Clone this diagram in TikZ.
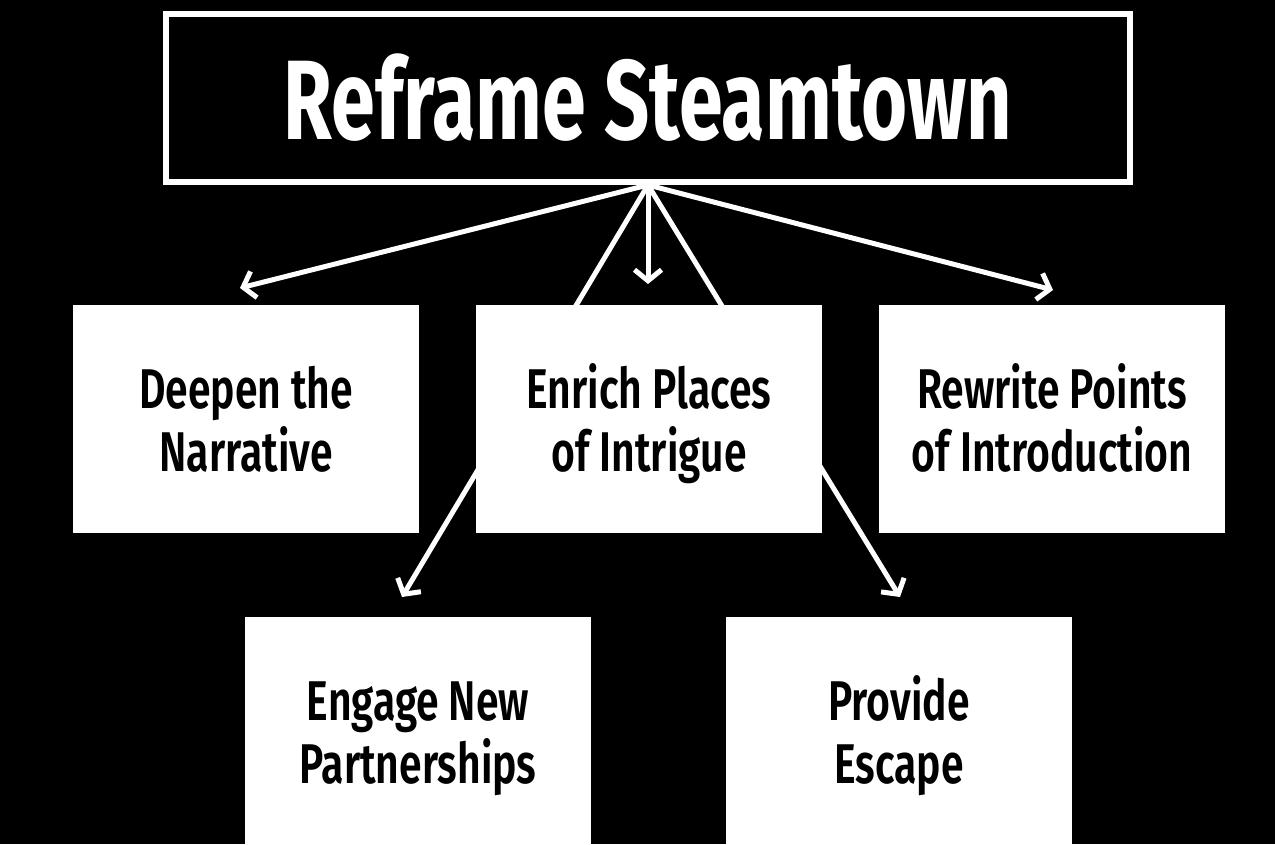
\documentclass[tikz,border=0pt]{standalone}
\usepackage{fontspec}
\setmainfont{Fira Sans}[FakeStretch=0.7]
\newfontfamily\boxfont{Fira Sans SemiBold}[FakeStretch=0.73]
\usetikzlibrary{arrows.meta}
\newcommand\mytopstrut{\rule{0pt}{56pt}}
\newcommand\mybotstrut{\rule[-15pt]{0pt}{15pt}}
\begin{document}
\begin{tikzpicture}[x=1pt,y=-1pt,
  wbox/.style={rectangle, fill=white, draw=none, inner sep=0pt, minimum width=346pt, minimum height=228pt, align=center, text=black, font=\boxfont\fontsize{56}{63}\selectfont},
  conn/.style={white, line width=5pt, -{Straight Barb[length=11pt,width=27pt]}},
  titlebox/.style={rectangle, draw=white, line width=6pt, fill=black, inner sep=0pt, minimum width=964pt, minimum height=168pt, text=white, font=\fontsize{113}{120}\selectfont\bfseries}]
\fill[black] (0,0) rectangle (1275,844);
\useasboundingbox (0,0) rectangle (1275,844);
\node[titlebox] (title) at (648,98) {Reframe Steamtown};
\coordinate (tl) at (240,288);
\coordinate (tm) at (648,284);
\coordinate (tr) at (1053,290);
\coordinate (bl) at (402,597);
\coordinate (br) at (900,597);
\draw[conn] (title.south) -- (tl);
\draw[conn] (title.south -| tm) -- (tm);
\draw[conn] (title.south) -- (tr);
\draw[conn] (title.south) -- (bl);
\draw[conn] (title.south) -- (br);
\node[wbox] (deepen) at (246,419) {\mytopstrut Deepen the\\Narrative\mybotstrut};
\node[wbox] (enrich) at (649,419) {\mytopstrut Enrich Places\\of Intrigue\mybotstrut};
\node[wbox] (rewrite) at (1052,419) {\mytopstrut Rewrite Points\\of Introduction\mybotstrut};
\node[wbox] (engage) at (418,731) {\mytopstrut Engage New\\Partnerships\mybotstrut};
\node[wbox] (provide) at (899,731) {\mytopstrut Provide\\Escape\mybotstrut};
\end{tikzpicture}
\end{document}
